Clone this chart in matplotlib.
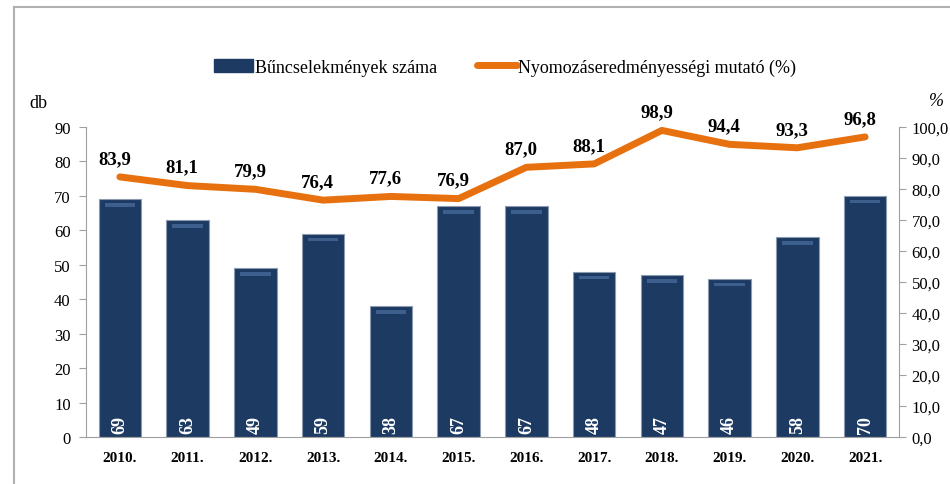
import numpy as np
import matplotlib.pyplot as plt
from matplotlib.lines import Line2D

plt.rcParams['font.family'] = ['Liberation Serif', 'DejaVu Serif']

# adatok
evek = ['2010.', '2011.', '2012.', '2013.', '2014.', '2015.', '2016.', '2017.', '2018.', '2019.', '2020.', '2021.']
buncselekmenyek = [69, 63, 49, 59, 38, 67, 67, 48, 47, 46, 58, 70]
mutato = [83.9, 81.1, 79.9, 76.4, 77.6, 76.9, 87.0, 88.1, 98.9, 94.4, 93.3, 96.8]

kek = '#1d3a63'
narancs = '#e8710f'
szurke = '#a0a0a0'

fig = plt.figure(figsize=(9.5, 4.85), dpi=100)
ax = fig.add_axes([86 / 950, 47 / 485, 813 / 950, 310 / 485])
ax2 = ax.twinx()

x = np.arange(len(evek))
ax.bar(x, buncselekmenyek, width=0.63, color=kek, edgecolor='#8d9bb0', linewidth=0.8, zorder=2)
# felso fenyes csik
ax.bar(x, [1.0] * len(x), bottom=np.array(buncselekmenyek) - 2.2, width=0.45,
       color='#3d5f8e', linewidth=0, zorder=3)
for xi, v in zip(x, buncselekmenyek):
    ax.text(xi, 1.2, str(v), rotation=90, color='white', fontsize=13, fontweight='bold',
            ha='center', va='bottom', zorder=4)

ax2.plot(x, mutato, color=narancs, linewidth=5, solid_capstyle='round', zorder=5)
for xi, v in zip(x, mutato):
    ax2.text(xi - 0.08, v + 3.2, f'{v:.1f}'.replace('.', ','), fontsize=13.5, fontweight='bold',
             ha='center', va='bottom')

ax.set_xlim(-0.5, len(evek) - 0.5)
ax.set_ylim(0, 90)
ax.set_yticks(range(0, 91, 10))
ax2.set_ylim(0, 100)
ax2.set_yticks(range(0, 101, 10))
ax2.set_yticklabels([f'{t:.1f}'.replace('.', ',') for t in range(0, 101, 10)])

ax.set_xticks(x)
ax.set_xticklabels(evek, fontweight='bold', fontsize=11)
ax.tick_params(axis='x', length=0, pad=10)
ax.tick_params(axis='y', labelsize=12, color=szurke, length=5, pad=6)
ax2.tick_params(axis='y', labelsize=12, color=szurke, length=5, pad=4)

for a in (ax, ax2):
    a.spines['top'].set_visible(False)
    for s in ('left', 'right', 'bottom'):
        a.spines[s].set_color(szurke)
ax.spines['right'].set_visible(False)
ax2.spines['left'].set_visible(False)
ax2.spines['bottom'].set_visible(False)

fig.text(38 / 950, 1 - 104 / 485, 'db', fontsize=13, ha='center', va='center')
fig.text(936 / 950, 1 - 102 / 485, '%', fontsize=13, style='italic', ha='center', va='center')

kezelok = [plt.Rectangle((0, 0), 1, 1, color=kek),
           Line2D([0], [0], color=narancs, linewidth=5, solid_capstyle='round')]
fig.legend(kezelok, ['Bűncselekmények száma', 'Nyomozáseredményességi mutató (%)'],
           loc='center', bbox_to_anchor=(505 / 950, 1 - 68 / 485), ncol=2, frameon=False,
           fontsize=13, handlelength=2.2, handletextpad=0.1, columnspacing=2.2)

# keret
fig.add_artist(Line2D([14 / 950, 1], [1 - 8 / 485, 1 - 8 / 485], color='#b0b0b0', linewidth=1.5))
fig.add_artist(Line2D([14 / 950, 14 / 950], [0, 1 - 8 / 485], color='#b0b0b0', linewidth=1.5))

fig.savefig('out.png', dpi=100)
